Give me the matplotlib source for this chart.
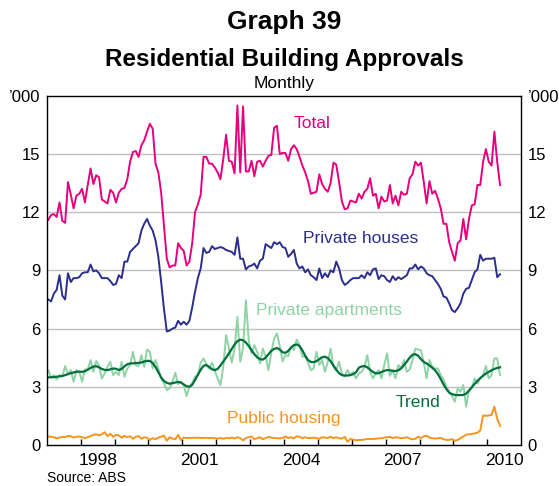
import numpy as np
import matplotlib
matplotlib.use("Agg")
import matplotlib.pyplot as plt

plt.rcParams['font.family'] = ['Liberation Sans', 'DejaVu Sans']

# monthly data, Jan 1997 - May 2010 ('000 dwellings)
total = [11.6, 11.85, 11.9, 11.75, 12.5, 11.55, 11.45, 13.55, 12.9, 12.2,
         12.85, 12.95, 13.2, 12.5, 13.4, 14.25, 13.45, 13.9, 13.8, 12.65,
         12.55, 12.45, 13.15, 13.0, 12.5, 13.0, 13.2, 13.25, 13.7, 14.6,
         15.1, 15.15, 14.85, 15.45, 15.7, 16.15, 16.55, 16.3, 14.5, 14.05,
         13.0, 11.3, 9.6, 9.15, 9.25, 9.25, 10.4, 10.15, 10.0, 9.25,
         9.45, 10.4, 12.0, 12.4, 12.9, 14.85, 14.85, 14.5, 14.5, 14.3,
         14.05, 13.7, 14.75, 16.0, 14.65, 14.6, 14.0, 17.5, 14.05, 17.45,
         14.1, 14.1, 14.65, 13.85, 14.6, 14.65, 14.35, 14.65, 14.9, 14.95,
         16.35, 16.45, 15.0, 15.05, 15.05, 14.65, 15.25, 15.45, 15.25, 14.85,
         14.4, 14.05, 13.6, 12.95, 13.0, 13.05, 13.95, 13.45, 13.2, 13.05,
         13.5, 14.55, 14.45, 13.55, 12.55, 12.15, 12.2, 12.6, 12.55, 12.5,
         12.95, 12.7, 13.05, 13.2, 13.75, 12.85, 12.95, 12.2, 12.8, 12.55,
         12.6, 13.4, 12.45, 12.85, 12.35, 13.05, 12.9, 12.95, 13.75, 13.95,
         14.6, 14.4, 14.55, 13.55, 12.45, 13.6, 12.95, 13.1, 12.7, 12.2,
         11.4, 11.4, 10.45, 9.95, 9.5, 10.4, 10.55, 11.65, 10.6, 11.65,
         12.35, 12.4, 13.4, 13.4, 14.6, 15.25, 14.6, 14.4, 16.15, 14.6,
         13.4]

houses = [7.5, 7.4, 7.8, 8.0, 8.75, 7.7, 7.5, 8.85, 8.4, 8.6,
          8.6, 8.65, 8.85, 8.9, 8.9, 9.3, 8.95, 9.0, 8.85, 8.6,
          8.6, 8.6, 8.45, 8.25, 8.3, 8.75, 8.6, 9.45, 9.45, 9.95,
          10.1, 10.25, 10.4, 11.05, 11.4, 11.65, 11.3, 11.05, 10.55, 9.7,
          8.4, 7.0, 5.85, 5.9, 6.0, 6.05, 6.4, 6.2, 6.35, 6.2,
          6.4, 7.1, 7.9, 8.6, 9.1, 10.15, 9.9, 9.95, 10.25, 10.1,
          10.15, 10.2, 10.15, 10.05, 10.0, 9.95, 9.8, 10.7, 9.6, 9.6,
          9.05, 9.2, 9.25, 9.35, 9.1, 9.5, 9.6, 10.35, 10.25, 10.15,
          10.45, 10.35, 10.45, 10.2, 10.15, 9.7, 9.85, 10.05, 9.35, 9.1,
          9.2, 8.9, 9.05, 8.75, 8.65, 8.5, 9.1, 8.6, 8.85, 8.65,
          9.0, 8.9, 9.45, 9.1, 8.5, 8.25, 8.35, 8.5, 8.6, 8.6,
          8.6, 8.75, 8.6, 8.9, 8.75, 9.05, 9.1, 8.55, 8.75, 8.7,
          8.5, 8.4, 8.7, 8.5, 8.65, 8.55, 8.65, 8.75, 9.1, 9.1,
          9.3, 9.05, 9.2, 9.1, 8.85, 8.75, 8.7, 8.5, 8.3, 8.05,
          7.65, 7.6, 7.3, 6.95, 6.85, 7.05, 7.3, 7.8, 8.05, 8.1,
          8.5, 8.9, 9.05, 9.8, 9.5, 9.6, 9.6, 9.6, 9.65, 8.65,
          8.8]

apartments = [3.86, 3.48, 3.6, 3.38, 3.6, 3.52, 4.07, 3.65, 3.86, 3.26,
              3.86, 3.77, 3.26, 3.89, 3.89, 4.38, 3.77, 4.33, 4.07, 3.43,
              3.69, 4.03, 4.29, 3.6, 3.77, 3.6, 4.29, 3.52, 3.94, 4.12,
              4.8, 4.12, 4.07, 4.63, 4.03, 4.92, 4.8, 3.94, 4.38, 3.94,
              3.43, 3.17, 2.83, 2.92, 3.26, 3.72, 3.14, 3.26, 3.09, 2.52,
              3.0, 3.21, 3.52, 3.6, 4.24, 4.46, 4.17, 3.94, 4.24, 3.82,
              3.43, 3.09, 4.03, 5.66, 4.97, 4.24, 4.97, 6.6, 4.29, 5.02,
              7.46, 5.4, 4.72, 5.15, 4.8, 4.2, 4.97, 4.55, 3.86, 4.75,
              5.49, 5.75, 5.1, 4.3, 4.63, 4.58, 5.06, 4.89, 5.43,
              5.15, 4.55, 4.55, 4.24, 3.86, 3.94, 4.8, 4.12, 4.38, 3.77,
              4.29, 4.97, 4.03, 3.86, 4.29, 3.69, 3.52, 3.86, 3.6, 3.77,
              3.43, 3.69, 3.77, 4.03, 4.63, 3.77, 3.43, 3.69, 3.86, 3.43,
              4.12, 4.72, 3.56, 3.86, 3.43, 4.12, 3.94, 4.38, 3.77, 3.89,
              4.38, 4.97, 4.92, 4.89, 4.24, 3.43, 4.38, 4.03, 3.94, 3.94,
              3.6, 3.38, 3.0, 2.74, 2.52, 2.23, 2.92, 2.74, 3.09, 1.97,
              2.83, 2.92, 3.43, 3.17, 3.43, 3.6, 4.07, 3.43, 3.6, 4.46,
              4.46, 3.6]

trend = [3.48, 3.49, 3.5, 3.52, 3.54, 3.56, 3.6, 3.65, 3.7, 3.74,
         3.77, 3.78, 3.77, 3.8, 3.88, 3.97, 4.04, 4.06, 4.0, 3.92,
         3.87, 3.86, 3.9, 3.94, 3.93, 3.86, 3.92, 4.05, 4.16, 4.2,
         4.21, 4.22, 4.23, 4.25, 4.3, 4.34, 4.33, 4.22, 4.02, 3.75,
         3.48, 3.3, 3.2, 3.16, 3.18, 3.22, 3.25, 3.22, 3.12, 3.03,
         3.0, 3.1, 3.35, 3.62, 3.88, 4.08, 4.12, 4.02, 3.9, 3.86,
         3.92, 4.1, 4.3, 4.5, 4.72, 4.95, 5.18, 5.35, 5.43, 5.4,
         5.28, 5.1, 4.88, 4.68, 4.52, 4.42, 4.4, 4.5, 4.68, 4.85,
         4.95, 5.0, 4.92, 4.78, 4.75, 4.85, 5.02, 5.15, 5.18, 5.1,
         4.88, 4.6, 4.38, 4.28, 4.27, 4.32, 4.42, 4.52, 4.55, 4.48,
         4.32, 4.1, 3.88, 3.7, 3.6, 3.58, 3.58, 3.6, 3.65, 3.75,
         3.98, 4.05, 4.07, 4.0, 3.88, 3.76, 3.69, 3.7, 3.76, 3.82,
         3.86, 3.85, 3.82, 3.81, 3.85, 3.95, 4.12, 4.3, 4.5, 4.65,
         4.68, 4.6, 4.42, 4.28, 4.2, 4.1, 3.98, 3.85, 3.65, 3.4,
         3.12, 2.88, 2.7, 2.62, 2.58, 2.57, 2.57, 2.58, 2.65, 2.8,
         2.98, 3.15, 3.3, 3.45, 3.57, 3.68, 3.77, 3.85, 3.92, 3.97,
         4.0]

public = [0.44, 0.42, 0.40, 0.34, 0.38, 0.42, 0.40, 0.47, 0.45, 0.38,
          0.42, 0.44, 0.40, 0.35, 0.40, 0.46, 0.52, 0.55, 0.50, 0.55,
          0.66, 0.45, 0.58, 0.42, 0.52, 0.50, 0.38, 0.47, 0.40, 0.45,
          0.32, 0.42, 0.46, 0.32, 0.40, 0.37, 0.26, 0.35, 0.30, 0.38,
          0.43, 0.48, 0.22, 0.40, 0.33, 0.30, 0.52, 0.25, 0.38, 0.36,
          0.36, 0.37, 0.37, 0.37, 0.36, 0.36, 0.37, 0.36, 0.36, 0.35,
          0.33, 0.36, 0.32, 0.36, 0.35, 0.38, 0.33, 0.40, 0.35, 0.24,
          0.35, 0.40, 0.44, 0.30, 0.35, 0.40, 0.30, 0.35, 0.42, 0.38,
          0.36, 0.35, 0.34, 0.36, 0.44, 0.36, 0.40, 0.34, 0.45, 0.42,
          0.35, 0.40, 0.35, 0.36, 0.38, 0.35, 0.33, 0.40, 0.38, 0.36,
          0.43, 0.35, 0.40, 0.35, 0.33, 0.42, 0.17, 0.31, 0.28, 0.24,
          0.26, 0.26, 0.28, 0.31, 0.30, 0.31, 0.32, 0.34, 0.35, 0.38,
          0.40, 0.42, 0.35, 0.40, 0.38, 0.35, 0.36, 0.40, 0.33, 0.29,
          0.32, 0.42, 0.36, 0.45, 0.48, 0.38, 0.35, 0.33, 0.35, 0.36,
          0.30, 0.26, 0.26, 0.30, 0.22, 0.26, 0.35, 0.44, 0.53, 0.55,
          0.57, 0.60, 0.63, 0.75, 1.52, 1.50, 1.52, 1.55, 1.97, 1.35,
          0.98]

months = np.arange(len(total))
x = 1997 + (months + 0.5) / 12

fig = plt.figure(figsize=(5.59, 4.86), dpi=100)
ax = fig.add_axes([0.0837, 0.0844, 0.8487, 0.7186])

for yv in range(3, 18, 3):
    ax.axhline(yv, color='#c0c0c0', lw=1.0, zorder=0)

ax.plot(x, total, color='#e6007e', lw=1.4)
ax.plot(x, houses, color='#2b2e8c', lw=1.4)
ax.plot(x, apartments, color='#8fd3a5', lw=1.4)
ax.plot(x, trend, color='#00703c', lw=1.6)
ax.plot(x, public, color='#f7941d', lw=1.4)

ax.set_xlim(1997, 2011)
ax.set_ylim(0, 18)

ax.set_xticks(range(1998, 2011))
ax.set_xticks([1998.5, 2001.5, 2004.5, 2007.5, 2010.5], minor=True)
ax.set_xticklabels([])
ax.set_xticklabels(['1998', '2001', '2004', '2007', '2010'], minor=True)
ax.tick_params(axis='x', which='major', direction='in', length=4.5, width=1)
ax.tick_params(axis='x', which='minor', length=0, pad=6, labelsize=12.5)

ax.set_yticks(range(0, 19, 3))
ax.set_yticklabels(['0', '3', '6', '9', '12', '15', '\u2019000'])
ax.tick_params(axis='y', length=0, labelsize=12, labelleft=True,
               labelright=True, pad=4.5)

for s in ax.spines.values():
    s.set_linewidth(1.0)
    s.set_color('black')

ax.text(2004.84, 16.55, 'Total', color='#e6007e', fontsize=12.5,
        ha='center', va='center')
ax.text(2006.27, 10.64, 'Private houses', color='#2b2e8c', fontsize=12.5,
        ha='center', va='center')
ax.text(2005.32, 6.95, 'Private apartments', color='#8fd3a5', fontsize=12.5,
        ha='center', va='center')
ax.text(2003.98, 1.37, 'Public housing', color='#f7941d', fontsize=12.5,
        ha='center', va='center')
ax.text(2007.94, 2.2, 'Trend', color='#00703c', fontsize=12.5,
        ha='center', va='center')

cx = 0.0837 + 0.8487 / 2
fig.text(cx, 0.955, 'Graph 39', ha='center', va='center',
         fontsize=19, fontweight='bold')
fig.text(cx, 0.877, 'Residential Building Approvals', ha='center',
         va='center', fontsize=17.5, fontweight='bold')
fig.text(cx, 0.829, 'Monthly', ha='center', va='center', fontsize=12.5)
fig.text(0.084, 0.0165, 'Source: ABS', ha='left', va='center', fontsize=10)

fig.savefig('out.png', dpi=100)
